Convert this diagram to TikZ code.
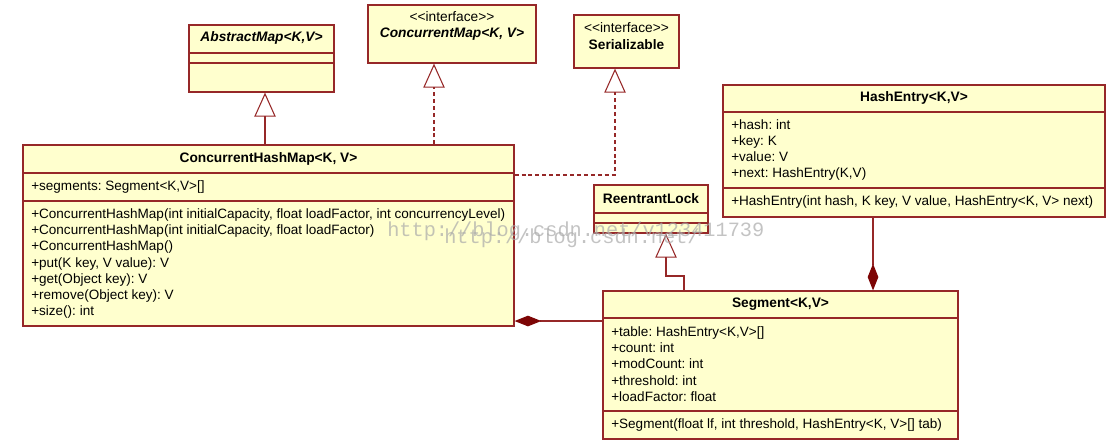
\documentclass[tikz,border=0pt]{standalone}
\usepackage{fontspec}
\setmainfont{Liberation Sans}
\setmonofont{Liberation Mono}
\usepackage{tikz}
\usetikzlibrary{arrows.meta,fit}
\frenchspacing
\definecolor{umlred}{RGB}{150,40,40}
\definecolor{dred}{RGB}{125,5,5}
\definecolor{umlfill}{RGB}{255,255,206}
\definecolor{wmgray}{RGB}{170,170,170}
\newcommand{\stereotxt}{<\kern0pt<interface>\kern0pt>}
\tikzset{
  classbox/.style={draw=umlred,fill=umlfill,line width=0.9pt,inner sep=0pt},
  sepline/.style={umlred,line width=0.9pt},
  cname/.style={font=\fontsize{10.3pt}{12.2pt}\selectfont\bfseries,inner sep=0pt,align=center},
  stereo/.style={font=\fontsize{10.3pt}{11.4pt}\selectfont,inner sep=0pt,align=center},
  member/.style={font=\fontsize{10.15pt}{12.2pt}\selectfont,inner sep=0pt,align=left,anchor=west},
  inherit/.style={umlred,line width=0.8pt,-{Triangle[open,length=18pt,width=16pt]}},
  realize/.style={inherit,dash pattern=on 3pt off 2.2pt},
  compose/.style={umlred,line width=0.8pt,{Diamond[length=20pt,width=8pt,color=dred]}-},
  wmark/.style={font=\ttfamily\fontsize{15.2pt}{15.2pt}\selectfont,text=wmgray,text opacity=0.7,inner sep=0pt,anchor=base west}
}

\begin{document}
\begin{tikzpicture}[x=0.75pt,y=-0.75pt]
  \useasboundingbox (0,0) rectangle (1119,444);
  % class boxes
  \node[classbox,fit={(189,25) (334,92)}] (absmap) {};
  \node[classbox,fit={(368,5) (536,63)}] (cmap) {};
  \node[classbox,fit={(574,15) (679,68)}] (ser) {};
  \node[classbox,fit={(23,145) (514,326)}] (chm) {};
  \node[classbox,fit={(594,185) (708,233)}] (lock) {};
  \node[classbox,fit={(723,85) (1105,217)}] (entry) {};
  \node[classbox,fit={(603,291) (958,439)}] (seg) {};
  \foreach \n/\y in {absmap/53,absmap/63,chm/173,chm/201,lock/213,lock/223,
                     entry/112,entry/188,seg/318,seg/411}
    {\draw[sepline] (\n.west |- 0,\y) -- (\n.east |- 0,\y);}
  % names
  \node[cname] (absmapname) at (absmap.north |- 0,38) {\itshape AbstractMap<K,V>};
  \node[stereo] (cmapname) at (cmap.north |- 0,26) {\stereotxt\\[1pt]\bfseries\itshape ConcurrentMap<K, V>};
  \node[stereo] (sername) at (ser.north |- 0,36) {\stereotxt\\[1pt]\bfseries Serializable};
  \node[cname] (chmname) at (chm.north |- 0,159) {ConcurrentHashMap<K, V>};
  \node[cname] (lockname) at (lock.north |- 0,199) {ReentrantLock};
  \node[cname] (entryname) at (entry.north |- 0,98) {HashEntry<K,V>};
  \node[cname] (segname) at (seg.north |- 0,304) {Segment<K,V>};
  % members
  \node[member] (chmattr) at (31,187) {+segments: Segment<K,V>[]};
  \node[member] (chmops) at (31,263.5) {+ConcurrentHashMap(int initialCapacity, float loadFactor, int concurrencyLevel)\\
    +ConcurrentHashMap(int initialCapacity, float loadFactor)\\
    +ConcurrentHashMap()\\
    +put(K key, V value): V\\
    +get(Object key): V\\
    +remove(Object key): V\\
    +size(): int};
  \node[member] (entryattr) at (731,150) {+hash: int\\+key: K\\+value: V\\+next: HashEntry(K,V)};
  \node[member] (entryops) at (731,202) {+HashEntry(int hash, K key, V value, HashEntry<K, V> next)};
  \node[member] (segattr) at (611,364) {+table: HashEntry<K,V>[]\\+count: int\\+modCount: int\\+threshold: int\\+loadFactor: float};
  \node[member] (segops) at (611,425) {+Segment(float lf, int threshold, HashEntry<K, V>[] tab)};
  % relations
  \draw[inherit] (chm.north -| 265,0) -- (absmap.south -| 265,0);
  \draw[realize] (chm.north -| 434,0) -- (cmap.south -| 434,0);
  \draw[realize] (chm.east |- 0,175) -| (ser.south -| 615,0);
  \coordinate (lockbend) at (666,276);
  \draw[inherit] (seg.north -| 684,0) |- (lockbend) -- (lock.south -| lockbend);
  \draw[compose] (chm.east |- 0,321) -- (seg.west |- 0,321);
  \draw[compose] (seg.north -| 873,0) -- (entry.south -| 873,0);
  % watermark
  \node[wmark] (wm1) at (387,236) {http://blog.csdn.net/v123411739};
  \node[wmark] (wm2) at (444,243) {http://blog.csdn.net/};
\end{tikzpicture}
\end{document}
